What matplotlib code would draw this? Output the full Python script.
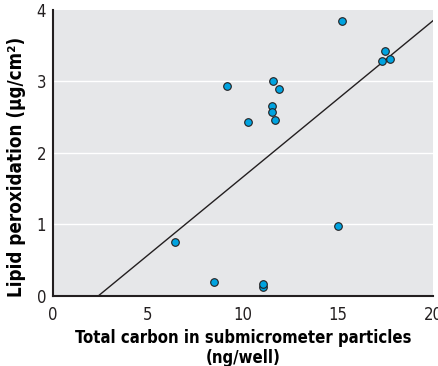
import matplotlib
matplotlib.use("Agg")
import matplotlib.pyplot as plt
import numpy as np

plt.rcParams['font.family'] = ['DejaVu Sans']
plt.rcParams['font.stretch'] = 'condensed'

# Data
carbon = [6.4, 8.5, 9.15, 10.25, 11.6, 11.9, 11.55, 11.55, 11.7,
          15.2, 17.5, 17.3, 17.75, 15.0, 11.05, 11.05]
lipid = [0.76, 0.19, 2.93, 2.43, 3.0, 2.9, 2.66, 2.57, 2.46,
         3.84, 3.43, 3.28, 3.31, 0.98, 0.13, 0.17]

# Regression line: y = slope * x + intercept
slope = 0.2185
intercept = -0.52

x_ticks = [0, 5, 10, 15, 20]
y_ticks = [0, 1, 2, 3, 4]

fig = plt.figure(figsize=(4.39, 3.66), dpi=100)
ax = fig.add_axes([0.1207, 0.1913, 0.8656, 0.7814])
ax.set_facecolor('#e6e7e9')

for yv in y_ticks[1:-1]:
    ax.axhline(yv, color='white', lw=1.0, zorder=1)

xl = np.array([0.0, 20.0])
ax.plot(xl, slope * xl + intercept, color='#231f20', lw=1.0, zorder=2)

ax.scatter(carbon, lipid, s=30, color='#00a3e0', edgecolor='#231f20',
           linewidth=0.8, zorder=3)

ax.set_xlim(0, 20)
ax.set_ylim(0, 4)
ax.set_xticks(x_ticks)
ax.set_yticks(y_ticks)
ax.tick_params(length=0, labelsize=12, colors='#231f20')
ax.tick_params(axis='x', pad=7)
ax.tick_params(axis='y', pad=5)

for s in ['top', 'right']:
    ax.spines[s].set_visible(False)
for s in ['left', 'bottom']:
    ax.spines[s].set_linewidth(1.5)
    ax.spines[s].set_color('#231f20')

ax.set_xlabel('Total carbon in submicrometer particles\n(ng/well)',
              fontsize=12, fontweight='bold', linespacing=1.15, labelpad=4)
ax.set_ylabel('Lipid peroxidation (μg/cm²)', fontsize=13.5,
              fontweight='bold')
ax.yaxis.set_label_coords(-0.072, 0.45)

fig.savefig('out.png', dpi=100)
